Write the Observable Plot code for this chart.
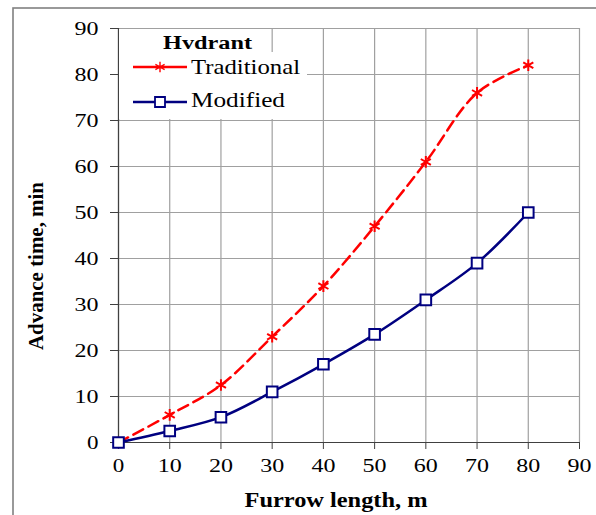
<!DOCTYPE html>
<html>
<head>
<meta charset="utf-8">
<script src="https://cdn.jsdelivr.net/npm/d3@7"></script>
<script src="https://cdn.jsdelivr.net/npm/@observablehq/plot@0.6"></script>
<style>
  html, body { margin: 0; padding: 0; background: white; }
  #chart { width: 596px; height: 515px; overflow: hidden; }
</style>
</head>
<body>
<div id="chart"></div>
<script>
const furrowLength = [0, 10, 20, 30, 40, 50, 60, 70, 80];
const traditional = [0, 6, 12.5, 23, 34, 47, 61, 76, 82];
const modified = [0, 2.5, 5.5, 11, 17, 23.5, 31, 39, 50];
const xTicks = [0, 10, 20, 30, 40, 50, 60, 70, 80, 90];
const yTicks = [0, 10, 20, 30, 40, 50, 60, 70, 80, 90];
const seriesNames = ["Traditional", "Modified"];
const legendTitle = "Hvdrant";
const xTitle = "Furrow length, m";
const yTitle = "Advance time, min";

const tradData = furrowLength.map((x, i) => ({x, y: traditional[i]}));
const modData = furrowLength.map((x, i) => ({x, y: modified[i]}));

const RED = "#ff0000", NAVY = "#000080", GRID = "#a0a0a0", AXIS = "#404040";
const FONT = "'Liberation Serif'";

const plot = Plot.plot({
  width: 596, height: 515,
  marginLeft: 118, marginRight: 17, marginTop: 28, marginBottom: 73,
  style: {fontFamily: FONT, fontSize: "19px", color: "black", background: "white"},
  x: {domain: [0, 90], label: null},
  y: {domain: [0, 90], label: null},
  marks: [
    Plot.gridX(xTicks, {stroke: GRID, strokeOpacity: 1, strokeWidth: 1.2}),
    Plot.gridY(yTicks, {stroke: GRID, strokeOpacity: 1, strokeWidth: 1.2}),
    Plot.axisX(xTicks, {tickSize: 7, tickPadding: 9, stroke: AXIS, label: null, fontSize: 19}),
    Plot.axisY(yTicks, {tickSize: 8, tickPadding: 12, stroke: AXIS, label: null, fontSize: 19}),
    Plot.ruleY([0], {stroke: AXIS, strokeWidth: 1.2}),
    Plot.ruleX([0], {stroke: AXIS, strokeWidth: 1.2}),
    Plot.line(tradData, {x: "x", y: "y", stroke: RED, strokeWidth: 2.5, strokeDasharray: "11,6", curve: "catmull-rom"}),
    Plot.line(modData, {x: "x", y: "y", stroke: NAVY, strokeWidth: 2.5, curve: "catmull-rom"}),
    Plot.dot(tradData, {x: "x", y: "y", symbol: "asterisk", r: 5.5, stroke: RED, strokeWidth: 2}),
    Plot.dot(modData, {x: "x", y: "y", symbol: "square", r: 6, fill: "white", stroke: NAVY, strokeWidth: 2})
  ]
});

document.getElementById("chart").appendChild(plot);

const svg = d3.select(plot);

// widen tick labels like the (horizontally stretched) reference
svg.selectAll("g[aria-label$='tick label'] text").each(function () {
  const t = d3.select(this);
  const n = (this.textContent || "").length;
  if (n > 0) t.attr("textLength", n === 1 ? 11.5 : 24).attr("lengthAdjust", "spacingAndGlyphs");
});

// outer frame
svg.append("rect").attr("x", 13).attr("y", 8).attr("width", 700).attr("height", 700)
  .attr("fill", "none").attr("stroke", "#808080").attr("stroke-width", 1.6);

// legend background boxes
const lg = svg.append("g").attr("text-anchor", "start");
lg.append("rect").attr("x", 119).attr("y", 29).attr("width", 150).attr("height", 24).attr("fill", "white");
lg.append("rect").attr("x", 119).attr("y", 52).attr("width", 188).attr("height", 67).attr("fill", "white");
lg.append("text").attr("x", 163).attr("y", 49).attr("text-anchor", "start")
  .attr("font-weight", "bold").attr("font-size", 18)
  .attr("textLength", 89).attr("lengthAdjust", "spacingAndGlyphs").text(legendTitle);

const items = [
  {name: seriesNames[0], color: RED, sym: d3.symbolAsterisk, size: 80, sw: 1.4, y: 67, ty: 74, len: 109, fill: "none"},
  {name: seriesNames[1], color: NAVY, sym: d3.symbolSquare, size: 100, sw: 1.8, y: 102, ty: 107, len: 94, fill: "white"}
];
for (const it of items) {
  lg.append("line").attr("x1", 133).attr("x2", 187).attr("y1", it.y).attr("y2", it.y)
    .attr("stroke", it.color).attr("stroke-width", 2.5);
  lg.append("path").attr("transform", `translate(160,${it.y})`)
    .attr("d", d3.symbol(it.sym, it.size)())
    .attr("fill", it.fill).attr("stroke", it.color).attr("stroke-width", it.sw);
  lg.append("text").attr("x", 191).attr("y", it.ty).attr("text-anchor", "start")
    .attr("font-size", 21).attr("textLength", it.len).attr("lengthAdjust", "spacingAndGlyphs")
    .text(it.name);
}

// axis titles
svg.append("text").attr("x", 336).attr("y", 507).attr("text-anchor", "middle")
  .attr("font-weight", "bold").attr("font-size", 20)
  .attr("textLength", 183).attr("lengthAdjust", "spacingAndGlyphs").text(xTitle);
svg.append("text").attr("transform", "translate(43,266) rotate(-90)").attr("text-anchor", "middle")
  .attr("font-weight", "bold").attr("font-size", 20)
  .attr("textLength", 168).attr("lengthAdjust", "spacingAndGlyphs").text(yTitle);

// serif font on every text element
svg.selectAll("text").attr("font-family", "Liberation Serif").style("font-family", FONT);
svg.selectAll("g").style("font-family", FONT);
</script>
</body>
</html>
